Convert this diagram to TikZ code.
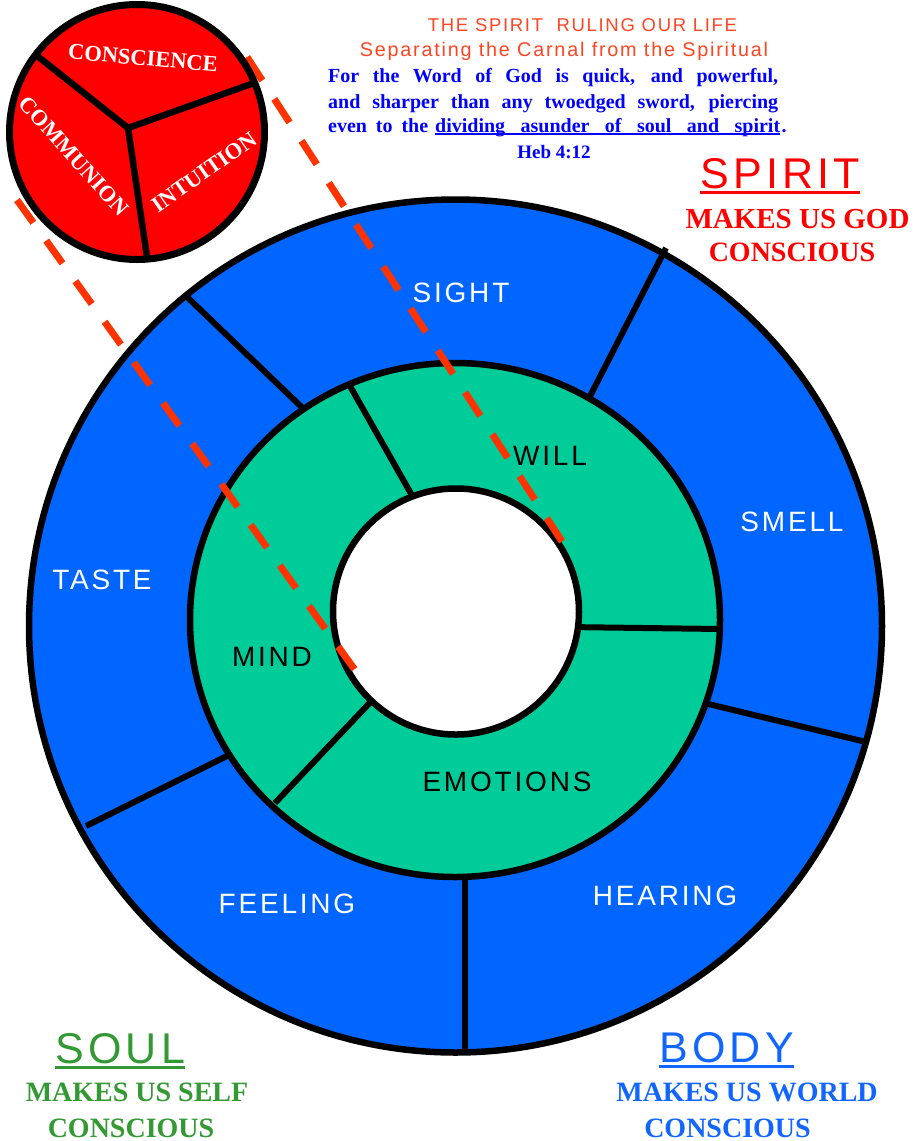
\documentclass[tikz,border=0pt]{standalone}
\usepackage{fontspec}
\setmainfont{Liberation Serif}
\newfontfamily\ringfont{Liberation Sans}[LetterSpace=10]
\newfontfamily\headfont{Liberation Sans}[LetterSpace=9]
\newfontfamily\bigfont{Liberation Sans}[LetterSpace=10]
\definecolor{bodyblue}{HTML}{0066FF}
\definecolor{soulgreen}{HTML}{00CC99}
\definecolor{spiritred}{HTML}{FF0000}
\definecolor{dashred}{HTML}{FF3300}
\definecolor{headorange}{HTML}{FF4422}
\definecolor{textblue}{HTML}{0000FF}
\definecolor{labgreen}{HTML}{339933}
\definecolor{labblue}{HTML}{1166FF}
\begin{document}
\begin{tikzpicture}[x=1pt,y=-1pt,
  divider/.style={draw=black, line width=6pt},
  ringlbl/.style={inner sep=0pt, font=\ringfont\fontsize{28}{30}\selectfont},
  cut/.style={draw=dashred, line width=7pt, dash pattern=on 28pt off 22pt},
  redlbl/.style={inner sep=0pt, text=white, font=\bfseries\fontsize{22.5}{24}\selectfont},
  verse/.style={inner sep=0pt, anchor=base west, text=textblue, font=\bfseries\fontsize{20}{22}\selectfont},
  head/.style={inner sep=0pt, anchor=base, text=headorange},
  bigword/.style={inner sep=0pt, anchor=base west, font=\bigfont\fontsize{43}{45}\selectfont},
  makes/.style={inner sep=0pt, anchor=base, font=\bfseries\fontsize{28}{30}\selectfont},
]
\useasboundingbox (0,0) rectangle (916,1141);

% ---- outer ring (body)
\coordinate (oc) at (455.5,626);
\filldraw[fill=bodyblue, draw=black, line width=6.5pt] (oc) circle[radius=426.5pt];
\coordinate (b1o) at (185,295);  \coordinate (b1i) at (312,417);
\coordinate (b2o) at (666,248);  \coordinate (b2i) at (586,404);
\coordinate (b3o) at (866,742);  \coordinate (b3i) at (700,702);
\coordinate (b4o) at (86,826);   \coordinate (b4i) at (235,752);
\coordinate (b5o) at (465,1052); \coordinate (b5i) at (465,866);
\foreach \k in {1,...,5} \draw[divider] (b\k o) -- (b\k i);

% ---- middle ring (soul)
\coordinate (gc) at (455,620);
\filldraw[fill=soulgreen, draw=black, line width=6.5pt] (gc) ellipse[x radius=265pt, y radius=257pt];
\coordinate (g1o) at (350,386); \coordinate (g1i) at (418,506);
\coordinate (g2o) at (721,629); \coordinate (g2i) at (566,627);
\coordinate (g3o) at (275,803); \coordinate (g3i) at (380,692);
\foreach \k in {1,2,3} \draw[divider] (g\k o) -- (g\k i);

% ---- inner circle
\coordinate (ic) at (456,611.5);
\filldraw[fill=white, draw=black, line width=6.5pt] (ic) circle[radius=123pt];

% ---- ring labels
\node[ringlbl, text=white] (sight) at (461,293) {SIGHT};
\node[ringlbl, text=white] (smell) at (792,522) {SMELL};
\node[ringlbl, text=white] (taste) at (102,580) {TASTE};
\node[ringlbl, text=white] (feeling) at (287,904) {FEELING};
\node[ringlbl, text=white] (hearing) at (665,896) {HEARING};
\node[ringlbl, text=black] (will) at (550,456) {WILL};
\node[ringlbl, text=black] (mind) at (272,657) {MIND};
\node[ringlbl, text=black] (emotions) at (507,782) {EMOTIONS};

% ---- dividing cut lines
\coordinate (c1s) at (247,57);  \coordinate (c1e) at (563,543);
\coordinate (c2s) at (17,200);  \coordinate (c2e) at (355,670);
\draw[cut] (c1s) -- (c1e);
\draw[cut] (c2s) -- (c2e);

% ---- spirit circle
\coordinate (rc) at (137,132);
\filldraw[fill=spiritred, draw=black, line width=7pt] (rc) circle[radius=127.5pt];
\coordinate (rm) at (128,128);
\coordinate (r1) at (36,55);
\coordinate (r2) at (254,83);
\coordinate (r3) at (147,257);
\draw[divider, line width=6.5pt] (r1) -- (rm) -- (r2);
\draw[divider, line width=6.5pt] (rm) -- (r3);
\node[redlbl, rotate=-5] (conscience) at (143,58) {CONSCIENCE};
\node[redlbl, rotate=-48] (communion) at (74,156) {COMMUNION};
\node[redlbl, rotate=35] (intuition) at (204,172) {INTUITION};

% ---- heading
\node[head, font=\headfont\fontsize{18.5}{20}\selectfont] (h1) at (582.5,31.7) {THE SPIRIT\ \ RULING OUR LIFE};
\node[head, font=\headfont\fontsize{19.8}{21}\selectfont] (h2) at (564,56) {Separating the Carnal from the Spiritual};
\node[verse] (v1) at (328,82) {\makebox[450pt][s]{For the Word of God is quick, and powerful,}};
\node[verse] (v2) at (328,108) {\makebox[450pt][s]{and sharper than any twoedged sword, piercing}};
\node[verse] (v3a) at (328,132) {\makebox[100pt][s]{even to the}};
\node[verse] (v3b) at (435,132) {\makebox[345pt][s]{dividing asunder of soul and spirit}};
\node[verse] (v3c) at ([xshift=1pt]v3b.base east) {.};
\draw[textblue, line width=1.5pt] ([yshift=-2pt]v3b.base west) -- ([yshift=-2pt]v3b.base east);
\node[verse, anchor=base, font=\bfseries\fontsize{19}{21}\selectfont] (heb) at (554,158) {Heb 4:12};

% ---- SPIRIT
\node[bigword, text=spiritred] (spw) at (700,188) {SPIRIT};
\draw[spiritred, line width=3pt] ([yshift=-4.5pt]spw.base west) -- ([yshift=-4.5pt]spw.base east);
\node[makes, text=spiritred, font=\bfseries\fontsize{29}{31}\selectfont] (sp1) at (797.5,228) {MAKES US GOD};
\node[makes, text=spiritred] (sp2) at (792,261) {CONSCIOUS};

% ---- SOUL
\node[bigword, text=labgreen] (sow) at (55,1063) {SOUL};
\draw[labgreen, line width=3pt] ([yshift=-4.5pt]sow.base west) -- ([yshift=-4.5pt]sow.base east);
\node[makes, text=labgreen] (so1) at (137,1101) {MAKES US SELF};
\node[makes, text=labgreen] (so2) at (131,1137) {CONSCIOUS};

% ---- BODY
\node[bigword, text=labblue] (bow) at (659,1062) {BODY};
\draw[labblue, line width=3pt] ([yshift=-4.5pt]bow.base west) -- ([yshift=-4.5pt]bow.base east);
\node[makes, text=labblue] (bo1) at (747,1101) {MAKES US WORLD};
\node[makes, text=labblue] (bo2) at (727.5,1137) {CONSCIOUS};
\end{tikzpicture}
\end{document}
